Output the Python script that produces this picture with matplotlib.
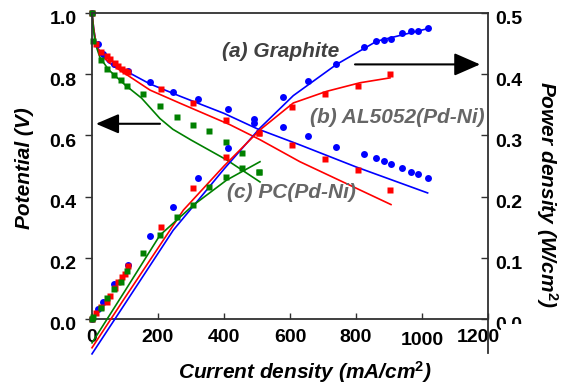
import matplotlib
matplotlib.use("Agg")
import matplotlib.pyplot as plt
import matplotlib.transforms as mtransforms
from matplotlib.patches import Rectangle

plt.rcParams['font.family'] = ['Liberation Sans', 'DejaVu Sans']
plt.rcParams['mathtext.fontset'] = 'custom'
plt.rcParams['mathtext.it'] = 'Liberation Sans:italic:bold'
plt.rcParams['mathtext.rm'] = 'Liberation Sans:bold'

# ---- measured points: current density (mA/cm2), potential (V), power (W/cm2)
graphite_i = [0, 19, 34, 68, 110, 176, 246, 322, 413, 491, 578, 654, 740, 825, 860, 886, 906, 940, 967, 987, 1017]
graphite_v = [1.0, 0.90, 0.865, 0.834, 0.81, 0.776, 0.743, 0.719, 0.686, 0.654, 0.629, 0.597, 0.5625, 0.539,
              0.527, 0.516, 0.506, 0.493, 0.482, 0.473, 0.461]
graphite_p = [0.0, 0.017, 0.027, 0.057, 0.088, 0.135, 0.183, 0.230, 0.279, 0.321, 0.363, 0.389, 0.417, 0.444,
              0.454, 0.456, 0.458, 0.468, 0.470, 0.470, 0.475]

al_i = [0, 13, 26, 44, 55, 70, 80, 90, 100, 110, 209, 305, 406, 506, 605, 707, 805, 904]
al_v = [1.0, 0.90, 0.871, 0.858, 0.850, 0.836, 0.826, 0.818, 0.812, 0.807, 0.752, 0.706, 0.651, 0.607,
        0.569, 0.523, 0.487, 0.423]
al_p = [0.0, 0.010, 0.020, 0.027, 0.038, 0.051, 0.060, 0.068, 0.073, 0.087, 0.151, 0.214, 0.264, 0.304,
        0.346, 0.367, 0.380, 0.400]

pc_i = [0, 4, 26, 46, 67, 87, 107, 155, 206, 257, 307, 356, 405, 455, 506]
pc_v = [1.0, 0.909, 0.845, 0.818, 0.799, 0.781, 0.763, 0.735, 0.697, 0.661, 0.633, 0.616, 0.579, 0.542, 0.479]
pc_p = [0.0, 0.003, 0.018, 0.034, 0.049, 0.061, 0.078, 0.108, 0.137, 0.167, 0.187, 0.216, 0.232, 0.246, 0.241]

# ---- fitted curves
graphite_fit_i = [0, 5, 12, 25, 50, 100, 176, 267, 400, 500, 630, 800, 1017]
graphite_fit_v = [1.0, 0.95, 0.90, 0.87, 0.838, 0.812, 0.768, 0.728, 0.672, 0.622, 0.569, 0.497, 0.412]
graphite_fit_pi = [0, 100, 246, 297, 400, 509, 610, 741, 863, 1014]
graphite_fit_p = [-0.057, 0.025, 0.145, 0.178, 0.245, 0.312, 0.365, 0.416, 0.454, 0.474]

al_fit_i = [0, 5, 12, 25, 65, 176, 267, 418, 509, 630, 906]
al_fit_v = [1.0, 0.95, 0.90, 0.865, 0.827, 0.748, 0.705, 0.635, 0.586, 0.514, 0.374]
al_fit_pi = [0, 100, 277, 400, 509, 610, 711, 812, 903]
al_fit_p = [-0.047, 0.035, 0.178, 0.250, 0.309, 0.353, 0.372, 0.386, 0.394]

pc_fit_i = [0, 4, 10, 24, 50, 100, 150, 206, 245, 300, 408, 509]
pc_fit_v = [1.0, 0.95, 0.90, 0.855, 0.815, 0.765, 0.722, 0.655, 0.620, 0.585, 0.520, 0.448]
pc_fit_pi = [0, 100, 206, 307, 408, 509]
pc_fit_p = [-0.039, 0.046, 0.137, 0.186, 0.227, 0.257]

x_ticks = [0, 200, 400, 600, 800, 1000, 1200]
v_ticks = [0.0, 0.2, 0.4, 0.6, 0.8, 1.0]
p_ticks = [0.0, 0.1, 0.2, 0.3, 0.4, 0.5]

BLUE, RED, GREEN = '#0000ff', '#ff0000', '#008000'
SPINE = '#303030'

fig = plt.figure(figsize=(5.61, 3.84), dpi=100)
ax = fig.add_axes([92 / 561, 65 / 384, 396 / 561, 306 / 384])
ax2 = ax.twinx()

ax.set_xlim(0, 1200)
ax.set_ylim(0, 1.0)
ax2.set_ylim(0, 0.5)

lw = 1.2
# potential
ax.plot(graphite_fit_i, graphite_fit_v, color=BLUE, lw=lw)
ax.plot(al_fit_i, al_fit_v, color=RED, lw=lw)
ax.plot(pc_fit_i, pc_fit_v, color=GREEN, lw=lw)
ax.plot(graphite_i, graphite_v, 'o', color=BLUE, ms=5, mec='none', clip_on=False)
ax.plot(al_i, al_v, 's', color=RED, ms=4.5, mec='none', clip_on=False)
ax.plot(pc_i, pc_v, 's', color=GREEN, ms=4.5, mec='none', clip_on=False)

# power density
ax2.plot(graphite_fit_pi, graphite_fit_p, color=BLUE, lw=lw, clip_on=False)
ax2.plot(al_fit_pi, al_fit_p, color=RED, lw=lw, clip_on=False)
ax2.plot(pc_fit_pi, pc_fit_p, color=GREEN, lw=lw, clip_on=False)
ax2.plot(graphite_i, graphite_p, 'o', color=BLUE, ms=5, mec='none', clip_on=False)
ax2.plot(al_i, al_p, 's', color=RED, ms=4.5, mec='none', clip_on=False)
ax2.plot(pc_i, pc_p, 's', color=GREEN, ms=4.5, mec='none', clip_on=False)

# arrows
ax.annotate('', xy=(12, 0.638), xytext=(206, 0.638),
            arrowprops=dict(arrowstyle='-|>,head_length=0.7,head_width=0.3', color='k',
                            lw=1.5, mutation_scale=20, shrinkA=0, shrinkB=0))
ax2.annotate('', xy=(1176, 0.416), xytext=(797, 0.416),
             arrowprops=dict(arrowstyle='-|>,head_length=0.8,head_width=0.35', color='k',
                             lw=1.5, mutation_scale=20, shrinkA=0, shrinkB=0))

# labels on the curves
lab = dict(fontsize=15, fontweight='bold', fontstyle='italic', va='center', ha='left')
ax.text(394, 0.875, '(a) Graphite', color='#404040', **lab)
ax.text(661, 0.658, '(b) AL5052(Pd-Ni)', color='#666666', **lab)
ax.text(409, 0.414, '(c) PC(Pd-Ni)', color='#666666', **lab)

# axes styling
for s in list(ax.spines.values()) + list(ax2.spines.values()):
    s.set_color(SPINE)
    s.set_linewidth(1.3)
ax.spines['right'].set_visible(False)
ax2.spines['left'].set_visible(False)
ax2.spines['top'].set_visible(False)
ax2.spines['bottom'].set_visible(False)
ax2.spines['right'].set_bounds(-0.055, 0.5)

ax.set_xticks(x_ticks)
ax.set_xticklabels([str(t) for t in x_ticks])
ax.set_yticks(v_ticks)
ax.set_yticklabels(['%.1f' % t for t in v_ticks])
ax2.set_yticks(p_ticks)
ax2.set_yticklabels(['%.1f' % t for t in p_ticks])

ax.tick_params(axis='x', direction='in', length=4, width=1, color=SPINE, pad=7, labelsize=14)
ax.tick_params(axis='y', direction='out', length=5, width=1, color=SPINE, pad=6, labelsize=14)
ax2.tick_params(axis='y', direction='in', length=5, width=1, color=SPINE, pad=5, labelsize=14)
for t in ax.get_xticklabels() + ax.get_yticklabels() + ax2.get_yticklabels():
    t.set_fontweight('bold')

# tick label nudges as in the original export
down = mtransforms.ScaledTranslation(0, -5 / 100, fig.dpi_scale_trans)
for t in ax.get_yticklabels() + ax2.get_yticklabels():
    t.set_transform(t.get_transform() + down)
xlabels = ax.get_xticklabels()
xlabels[5].set_transform(xlabels[5].get_transform() + mtransforms.ScaledTranslation(0, -3 / 100, fig.dpi_scale_trans))
xlabels[6].set_transform(xlabels[6].get_transform() + mtransforms.ScaledTranslation(-10 / 100, 0, fig.dpi_scale_trans))

# the right-hand "0.0" is half hidden in the original
fig.add_artist(Rectangle((501 / 561, 44 / 384), 30 / 561, 16 / 384, transform=fig.transFigure,
                         facecolor='white', edgecolor='none', zorder=10))

fig.text(24 / 561, 1 - 168 / 384, 'Potential (V)', rotation=90, ha='center', va='center',
         fontsize=15, fontweight='bold', fontstyle='italic')
fig.text(547 / 561, 1 - 195 / 384, 'Power density (W/cm$^2$)', rotation=270, ha='center', va='center',
         fontsize=15, fontweight='bold', fontstyle='italic')
fig.text(305 / 561, 1 - 372 / 384, 'Current density (mA/cm$^2$)', ha='center', va='center',
         fontsize=15, fontweight='bold', fontstyle='italic')

fig.savefig('out.png', dpi=100)
